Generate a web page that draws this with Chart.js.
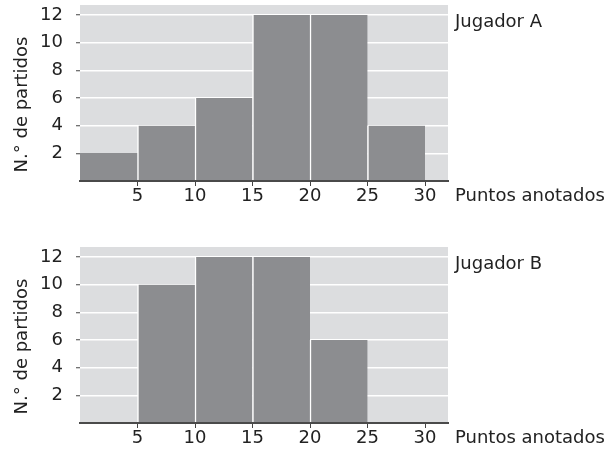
<!DOCTYPE html>
<html>
<head>
<meta charset="utf-8">
<script src="https://cdn.jsdelivr.net/npm/chart.js@4.4.0/dist/chart.umd.min.js"></script>
<style>
  body { margin: 0; background: #fff; }
  .box { position: absolute; left: 0; width: 608px; height: 208px; }
</style>
</head>
<body>
<div class="box" style="top:0"><canvas id="chartA"></canvas></div>
<div class="box" style="top:242px"><canvas id="chartB"></canvas></div>
<script>
// bins of 5 points, value = number of matches
const binCenters = [2.5, 7.5, 12.5, 17.5, 22.5, 27.5];
const jugadorA = [2, 4, 6, 12, 12, 4];
const jugadorB = [0, 10, 12, 12, 6, 0];
const xTicks = [5, 10, 15, 20, 25, 30];
const yTicks = [2, 4, 6, 8, 10, 12];

Chart.defaults.font.family = 'DejaVu Sans';
Chart.defaults.font.size = 18;
Chart.defaults.color = '#222';

const plotBg = {
    id: 'plotBg',
    beforeDraw(chart) {
        const a = chart.chartArea, ctx = chart.ctx;
        ctx.save();
        ctx.fillStyle = '#dcdddf';
        ctx.fillRect(a.left, a.top, a.right - a.left, a.bottom - a.top);
        ctx.restore();
    }
};

const sideTexts = {
    id: 'sideTexts',
    afterDraw(chart, args, opts) {
        const ctx = chart.ctx;
        ctx.save();
        ctx.fillStyle = '#222';
        ctx.font = '18px "DejaVu Sans"';
        ctx.textBaseline = 'alphabetic';
        ctx.textAlign = 'left';
        ctx.fillText(opts.player, 455, 27);
        ctx.fillText('Puntos anotados', 455, 201);
        ctx.translate(27, 104.5);
        ctx.rotate(-Math.PI / 2);
        ctx.textAlign = 'center';
        ctx.fillText('N.° de partidos', 0, 0);
        ctx.restore();
    }
};

function noPad(s) {
    s.paddingTop = 0;
    s.paddingBottom = 0;
    s.paddingLeft = 0;
    s.paddingRight = 0;
}

function makeHist(id, values, player) {
    const ctx = document.getElementById(id).getContext('2d');
    return new Chart(ctx, {
        type: 'bar',
        data: {
            datasets: [{
                data: binCenters.map((x, i) => ({ x: x, y: values[i] })),
                backgroundColor: '#8c8d90',
                borderColor: '#ffffff',
                borderWidth: c => ({ left: c.dataIndex === 0 ? 0 : 1.5, top: 0, right: 0, bottom: 0 }),
                borderSkipped: false,
                barPercentage: 1,
                categoryPercentage: 1
            }]
        },
        options: {
            responsive: true,
            maintainAspectRatio: false,
            animation: false,
            layout: { padding: { left: 0, right: 160, top: 5, bottom: 0 } },
            plugins: {
                legend: { display: false },
                tooltip: { enabled: false },
                sideTexts: { player: player }
            },
            scales: {
                x: {
                    type: 'linear',
                    min: 0,
                    max: 32,
                    offset: false,
                    afterBuildTicks: s => { s.ticks = xTicks.map(v => ({ value: v })); },
                    afterFit: s => { s.height = 27; noPad(s); },
                    grid: { offset: false, drawOnChartArea: false, tickLength: 5, tickColor: '#444', tickWidth: 1 },
                    border: { color: '#4a4a4a', width: 2, z: 1 },
                    ticks: { padding: 0, maxRotation: 0 }
                },
                y: {
                    min: 0,
                    max: 12.72,
                    afterBuildTicks: s => { s.ticks = yTicks.map(v => ({ value: v })); },
                    afterFit: s => { s.width = 80; noPad(s); },
                    grid: { color: '#ffffff', lineWidth: 1.5, tickLength: 4, tickColor: '#444', tickWidth: 1 },
                    border: { display: false },
                    ticks: { padding: 13 }
                }
            }
        },
        plugins: [plotBg, sideTexts]
    });
}

makeHist('chartA', jugadorA, 'Jugador A');
makeHist('chartB', jugadorB, 'Jugador B');
</script>
</body>
</html>
